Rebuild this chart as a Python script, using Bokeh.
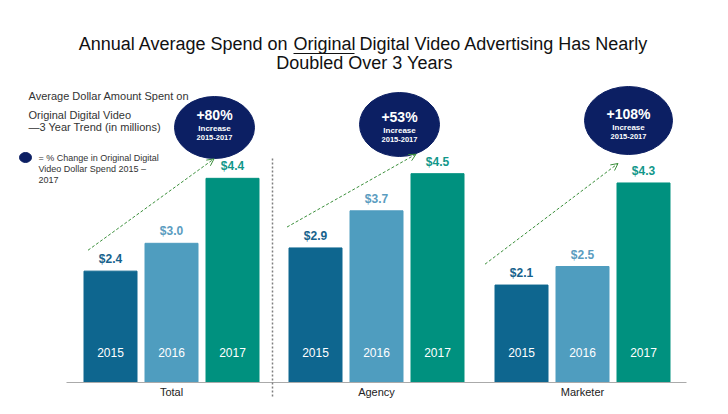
from bokeh.plotting import figure
from bokeh.models import Range1d, ColumnDataSource, Arrow, OpenHead
from bokeh.core.properties import value
from bokeh.embed import file_html
from bokeh.resources import INLINE

# ---- data ----
groups = ["Total", "Agency", "Marketer"]
years = ["2015", "2016", "2017"]
total_vals = [2.4, 3.0, 4.4]
agency_vals = [2.9, 3.7, 4.5]
marketer_vals = [2.1, 2.5, 4.3]
pct_change = ["+80%", "+53%", "+108%"]
bubble_sub1 = "Increase"
bubble_sub2 = "2015-2017"
value_labels = [["$2.4", "$3.0", "$4.4"], ["$2.9", "$3.7", "$4.5"], ["$2.1", "$2.5", "$4.3"]]

series = [total_vals, agency_vals, marketer_vals]

bar_colors = ["#0e668f", "#4f9dbf", "#00917f"]
label_colors = ["#16628c", "#5a9cc0", "#11978a"]
navy = "#0c1f63"
arrow_green = "#3b8f3b"
FONT = "Liberation Sans"

W, H = 712, 398
PX_PER_UNIT = 46.4
BASE_Y = 382.0

def xd(px):
    return float(px)

def yd(py):
    return (BASE_Y - py) / PX_PER_UNIT

p = figure(width=W, height=H, output_backend="svg", toolbar_location=None,
           x_range=Range1d(0, W), y_range=Range1d(yd(H), yd(0)),
           min_border=0, outline_line_color=None)
p.axis.visible = False
p.xgrid.visible = False
p.ygrid.visible = False
p.background_fill_color = "white"
p.border_fill_color = "white"

# ---- bars ----
group_center = [171.0, 376.0, 582.0]
step = 61.0
bar_w = 53.0

xs, tops, cols, lbls, lcols, yrs = [], [], [], [], [], []
for g, vals in enumerate(series):
    for j, v in enumerate(vals):
        xs.append(xd(group_center[g] + (j - 1) * step))
        tops.append(v)
        cols.append(bar_colors[j])
        lbls.append(value_labels[g][j])
        lcols.append(label_colors[j])
        yrs.append(years[j])

src = ColumnDataSource(dict(x=xs, top=tops, color=cols, lbl=lbls, lcol=lcols, yr=yrs,
                            lbl_y=[t + 12.0 / PX_PER_UNIT for t in tops],
                            yr_y=[yd(352)] * len(xs)))
p.vbar(x="x", top="top", bottom=0, width=bar_w, color="color", source=src)

p.text(x="x", y="lbl_y", text="lbl", text_color="lcol", source=src,
       text_font=value(FONT), text_font_size="12px", text_font_style="bold",
       text_align="center", text_baseline="middle")
p.text(x="x", y="yr_y", text="yr", text_color="white", source=src,
       text_font=value(FONT), text_font_size="12px",
       text_align="center", text_baseline="middle")

# baseline
p.segment(x0=[xd(66)], y0=[0], x1=[xd(686)], y1=[0], line_color="#aaaaaa", line_width=1)

# separator (dotted)
p.segment(x0=[xd(272)], y0=[yd(158)], x1=[xd(272)], y1=[yd(400)],
          line_color="#7f7f7f", line_width=1.5, line_dash="2 2")

# group labels
p.text(x=[xd(c) for c in group_center], y=[yd(391)] * 3, text=groups,
       text_color="#222222", text_font=value(FONT), text_font_size="11px",
       text_align="center", text_baseline="middle")

# ---- trend arrows ----
arrow_start_dx = [4.0, -2.0, -10.0]
arrow_end_dx = [8.0, 5.0, 1.0]
for g, vals in enumerate(series):
    left0 = group_center[g] - step - bar_w / 2
    left2 = group_center[g] + step - bar_w / 2
    p.add_layout(Arrow(end=OpenHead(size=7, line_color=arrow_green, line_width=1),
                       x_start=xd(left0 + arrow_start_dx[g]), y_start=vals[0] + 0.45,
                       x_end=xd(left2 + arrow_end_dx[g]), y_end=vals[2] + 0.42,
                       line_color=arrow_green, line_width=1, line_dash="3 2"))

# ---- bubbles ----
bub_x = [214, 399, 628]
bub_y = [127, 124, 120]
bub_w = [80, 80, 88]
bub_h = [62, 64, 68]
p.ellipse(x=[xd(v) for v in bub_x], y=[yd(v) for v in bub_y], width=bub_w, height=bub_h,
          width_units="screen", height_units="screen", fill_color=navy, line_color=navy)
big_y = [114, 116, 113]
p.text(x=[xd(v) for v in bub_x], y=[yd(v) for v in big_y], text=pct_change,
       text_color="white", text_font=value(FONT), text_font_size="14px", text_font_style="bold",
       text_align="center", text_baseline="middle")
p.text(x=[xd(v) for v in bub_x], y=[yd(v + 14) for v in big_y], text=[bubble_sub1] * 3,
       text_color="white", text_font=value(FONT), text_font_size="8px", text_font_style="bold",
       text_align="center", text_baseline="middle")
p.text(x=[xd(v) for v in bub_x], y=[yd(v + 23) for v in big_y], text=[bubble_sub2] * 3,
       text_color="white", text_font=value(FONT), text_font_size="7.5px", text_font_style="bold",
       text_align="center", text_baseline="middle")

# ---- title ----
title_color = "#111111"
p.text(x=[xd(288)], y=[yd(43)], text=["Annual Average Spend on"], text_color=title_color,
       text_font=value(FONT), text_font_size="18px", text_align="right", text_baseline="middle")
p.text(x=[xd(293)], y=[yd(43)], text=["Original"], text_color=title_color,
       text_font=value(FONT), text_font_size="18px", text_align="left", text_baseline="middle")
p.text(x=[xd(359)], y=[yd(43)], text=["Digital Video Advertising Has Nearly"], text_color=title_color,
       text_font=value(FONT), text_font_size="18px", text_align="left", text_baseline="middle")
p.segment(x0=[xd(293)], y0=[yd(53)], x1=[xd(354)], y1=[yd(53)], line_color=title_color, line_width=1)
p.text(x=[xd(364)], y=[yd(62)], text=["Doubled Over 3 Years"], text_color=title_color,
       text_font=value(FONT), text_font_size="18px", text_align="center", text_baseline="middle")

# ---- left notes ----
note_color = "#333333"
p.text(x=[xd(28)] * 3, y=[yd(95), yd(114), yd(126)],
       text=["Average Dollar Amount Spent on", "Original Digital Video", "\u20143 Year Trend  (in millions)"],
       text_color=note_color, text_font=value(FONT), text_font_size="11px",
       text_align="left", text_baseline="middle")
p.ellipse(x=[xd(25)], y=[yd(157)], width=[12], height=[10], width_units="screen", height_units="screen",
          fill_color=navy, line_color=navy)
p.text(x=[xd(38)] * 3, y=[yd(157), yd(168), yd(179)],
       text=["= % Change in Original Digital", "Video Dollar Spend  2015 \u2013", "2017"],
       text_color=note_color, text_font=value(FONT), text_font_size="9px",
       text_align="left", text_baseline="middle")

open("out.html", "w").write(file_html(p, INLINE))
